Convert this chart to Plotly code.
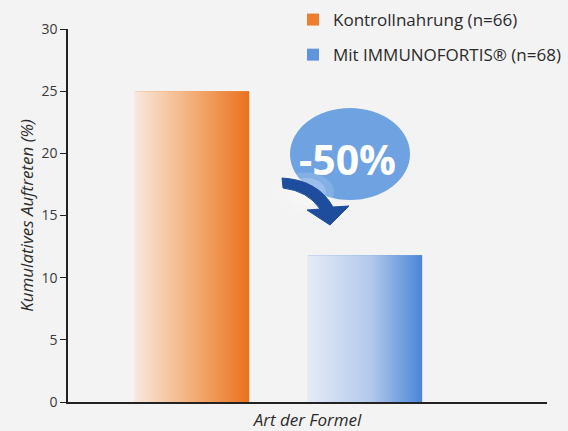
import plotly.graph_objects as go

# ---- data ----
groups = ["Kontrollnahrung (n=66)", "Mit IMMUNOFORTIS® (n=68)"]
values = [25, 11.8]
y_ticks = [0, 5, 10, 15, 20, 25, 30]
reduction_label = "-50%"
x_title = "Art der Formel"
y_title = "Kumulatives Auftreten (%)"

# ---- style ----
solid_colors = ["#ee7d2e", "#5f95dc"]
light_colors = ["#f8e8dd", "#e4ebf6"]
mid_colors = ["#f2a96f", "#b3c9ec"]
dark_colors = ["#ea711e", "#4a85d6"]
bg = "#f3f3f3"
font_family = "Open Sans, Noto Sans, sans-serif"
txt = "#2b2b2b"

W, H = 568, 431
L, R, T, B = 68, 21, 29, 29
bar_width = 0.66
positions = list(range(len(groups)))

fig = go.Figure()

for i, (g, v) in enumerate(zip(groups, values)):
    fig.add_trace(go.Bar(
        x=[positions[i]], y=[v], width=bar_width, name=g,
        marker=dict(color=solid_colors[i], line=dict(width=0)),
        legendgroup=g, hoverinfo="skip",
    ))

# gradient overlays, built from the same values
for i, v in enumerate(values):
    x0 = positions[i] - bar_width / 2
    x1 = positions[i] + bar_width / 2
    fig.add_trace(go.Scatter(
        x=[x0, x1, x1, x0, x0], y=[0, 0, v, v, 0],
        mode="lines", line=dict(width=0), fill="toself",
        fillgradient=dict(type="horizontal",
                          colorscale=[[0, light_colors[i]], [0.55, mid_colors[i]], [1, dark_colors[i]]]),
        showlegend=False, hoverinfo="skip", legendgroup=groups[i],
    ))

pw = W - L - R
ph = H - T - B


def px(x):
    return (x - L) / pw


def py(y):
    return (H - B - y) / ph


# ellipse badge
fig.add_shape(type="circle", xref="paper", yref="paper",
              x0=px(290), x1=px(410), y0=py(200), y1=py(108),
              fillcolor="#6ea2e1", line=dict(width=0), layer="above")
# soft light glow behind the arrow (lower-left of the badge)
for r, op in [(28, 0.15), (20, 0.2), (12, 0.25)]:
    cx, cy = 306, 192
    fig.add_shape(type="circle", xref="paper", yref="paper",
                  x0=px(cx - r), x1=px(cx + r), y0=py(cy + r * 0.7), y1=py(cy - r * 0.7),
                  fillcolor="white", opacity=op, line=dict(width=0), layer="above")

# curved arrow
pts = [("M", 282, 178), ("Q", 318, 180, 333, 207), ("L", 349, 206), ("L", 330, 225),
       ("L", 307, 210), ("L", 320, 209), ("Q", 308, 191, 283, 188)]
path = ""
for p in pts:
    cmd = p[0]
    coords = p[1:]
    s = []
    for k in range(0, len(coords), 2):
        s.append(f"{px(coords[k]):.4f},{py(coords[k+1]):.4f}")
    path += cmd + " ".join(s) + " "
path += "Z"
fig.add_shape(type="path", xref="paper", yref="paper", path=path,
              fillcolor="#1f4d9e", line=dict(color="#1f4d9e", width=1), layer="above")

fig.add_annotation(text=f"<b>{reduction_label}</b>", xref="paper", yref="paper",
                   x=px(347), y=py(159), showarrow=False,
                   font=dict(family=font_family, size=41, color="white"))

fig.update_layout(
    width=W, height=H,
    margin=dict(l=L, r=R, t=T, b=B, autoexpand=False),
    paper_bgcolor=bg, plot_bgcolor=bg,
    font=dict(family=font_family, color=txt),
    barmode="overlay",
    showlegend=True,
    legend=dict(x=px(293), y=py(2), xanchor="left", yanchor="top",
                bgcolor="rgba(0,0,0,0)", font=dict(size=17, color=txt),
                tracegroupgap=10, traceorder="grouped"),
    xaxis=dict(range=[-0.717, 2.052], showticklabels=False, ticks="",
               showgrid=False, zeroline=False, showline=True,
               linecolor="#222", linewidth=1.5,
               title=dict(text=x_title, standoff=16,
                          font=dict(size=17, style="italic", color=txt))),
    yaxis=dict(range=[0, 30], tickvals=y_ticks, ticks="outside", ticklen=6,
               tickcolor="#222", tickwidth=1.2, showgrid=False, zeroline=False,
               showline=True, linecolor="#222", linewidth=1.5,
               tickfont=dict(size=14, color="#3a3a3a"),
               title=dict(text=y_title, standoff=3,
                          font=dict(size=17, style="italic", color=txt))),
)

fig.write_html("out.html", config={"displayModeBar": False},
               post_script="document.body.style.margin='0';document.body.style.background='%s';" % bg)
